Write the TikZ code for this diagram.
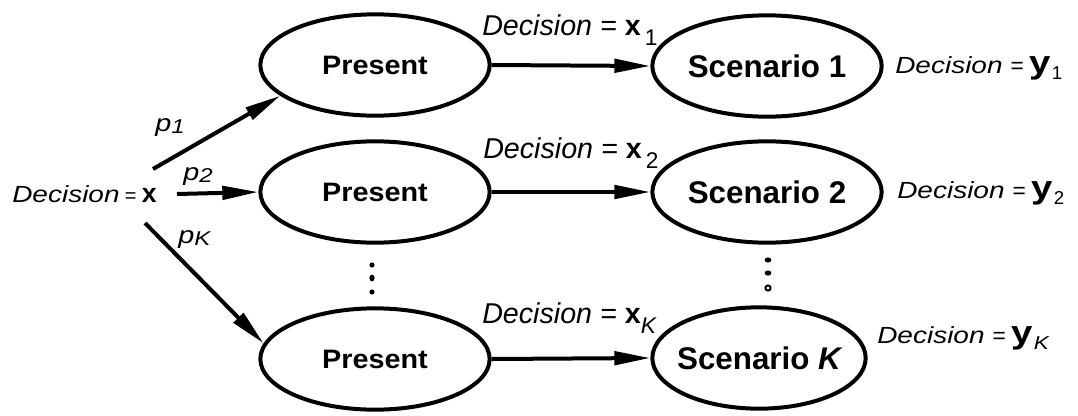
\documentclass[tikz,border=0pt]{standalone}
\usepackage{fontspec}
\setmainfont{Liberation Sans}
\newfontfamily\widefont[FakeStretch=1.2]{Liberation Sans}
\newfontfamily\presfont[FakeStretch=1.08]{Liberation Sans}
\usetikzlibrary{arrows.meta,shapes.geometric}
\begin{document}
\begin{tikzpicture}[x=0.75pt,y=-0.75pt,
  oval/.style={draw,ellipse,line width=3pt,minimum width=172pt,minimum height=76pt,inner sep=0pt},
  conn/.style={line width=3pt,-{Triangle[length=27pt,width=10pt]}},
  prestext/.style={font=\presfont\bfseries\fontsize{20}{20}\selectfont},
  scentext/.style={font=\bfseries\fontsize{23.5}{24}\selectfont},
  toplab/.style={anchor=base west,inner sep=0pt},
  sidelab/.style={anchor=base west,inner sep=0pt},
  dot/.style={fill=black,draw=none}]
\useasboundingbox (0,0) rectangle (1078,415);
\newcommand{\sidedec}{{\widefont\itshape\fontsize{17.5}{18}\selectfont Decision}}
\newcommand{\topdec}{{\itshape\fontsize{21.5}{22}\selectfont Decision = }}
\newcommand{\topx}{{\bfseries\fontsize{21.5}{22}\selectfont x}}
\newcommand{\sidey}{\hspace{6pt}{\fontsize{17}{17}\selectfont =}\hspace{4pt}\scalebox{1.2}[1]{\bfseries\fontsize{24}{24}\selectfont y}\hspace{1pt}}
% ellipses
\node[oval,prestext] (p1) at (375,65) {Present};
\node[oval,prestext] (p2) at (375,192) {Present};
\node[oval,prestext] (pK) at (375,359) {Present};
\node[oval,scentext] (s1) at (767,66) {Scenario 1};
\node[oval,scentext] (s2) at (767,192) {Scenario 2};
\node[oval,scentext,minimum width=160pt] (sK) at (759,358) {\makebox[0pt]{Scenario {\itshape K}}};
% connectors between present and scenarios
\draw[conn] (p1.east) -- (s1.west);
\draw[conn] (p2.east) -- (s2.west);
\draw[conn] (pK.east) -- (sK.west);
% top labels
\node[toplab] (t1) at (482,35) {\topdec\topx\hspace{3pt}\raisebox{-7.5pt}{\fontsize{17}{17}\selectfont 1}};
\node[toplab] (t2) at (483,158) {\topdec\topx\hspace{3pt}\raisebox{-7.5pt}{\fontsize{17}{17}\selectfont 2}};
\node[toplab] (tK) at (482,323) {\topdec\topx\raisebox{-7.5pt}{\itshape\fontsize{17}{17}\selectfont K}};
% right labels
\node[sidelab] (r1) at (895,73) {\sidedec\sidey\raisebox{-5pt}{\fontsize{14}{14}\selectfont 1}};
\node[sidelab] (r2) at (897,198) {\sidedec\sidey\raisebox{-5pt}{\fontsize{14}{14}\selectfont 2}};
\node[sidelab] (rK) at (877,343) {\sidedec\sidey\raisebox{-5pt}{\widefont\itshape\fontsize{14}{14}\selectfont K}};
% left label
\node[sidelab] (dx) at (12,202) {\sidedec\hspace{4pt}{\fontsize{15}{15}\selectfont =}\hspace{4pt}{\bfseries\fontsize{20}{20}\selectfont x}};
% probability labels
\node[sidelab] (q1) at (155,131) {{\widefont\itshape\fontsize{18}{18}\selectfont p}\raisebox{-2pt}{\widefont\itshape\fontsize{15}{15}\selectfont 1}};
\node[sidelab] (q2) at (183,180) {{\widefont\itshape\fontsize{18}{18}\selectfont p}\raisebox{-2pt}{\widefont\itshape\fontsize{15}{15}\selectfont 2}};
\node[sidelab] (qK) at (178,243) {{\widefont\itshape\fontsize{18}{18}\selectfont p}\raisebox{-2pt}{\widefont\itshape\fontsize{15}{15}\selectfont K}};
% arrows from decision x
\coordinate (a1) at (153,169);
\coordinate (a2) at (177,194);
\coordinate (aK) at (145,223);
\draw[conn] (a1) -- (p1.198);
\draw[conn] (a2) -- (p2.west);
\draw[conn] (aK) -- (pK.172);
% vertical dots
\fill[dot] (372,265) circle (2.6);
\fill[dot] (372,278) ellipse (2.6 and 3.4);
\fill[dot] (372,292) circle (2.6);
\fill[dot] (768,260) ellipse (3.4 and 2.6);
\fill[dot] (768,273) ellipse (3.4 and 2.6);
\draw[line width=1.5pt] (768,288) circle (2.6);
\end{tikzpicture}
\end{document}
